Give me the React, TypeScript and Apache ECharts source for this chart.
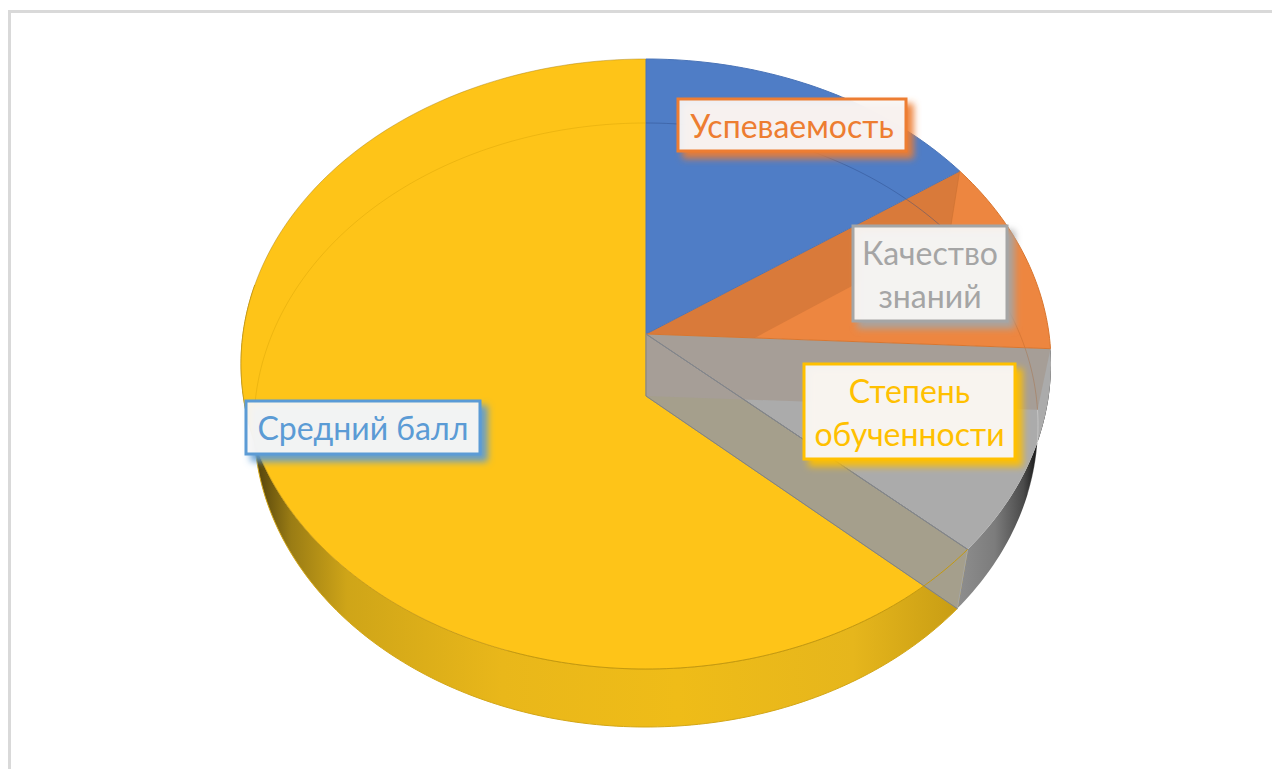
import React, { useEffect, useRef } from "react";
import * as echarts from "echarts";

// Slices, clockwise from 12 o'clock, in percent
const sliceValues = [14.1, 10.1, 11.2, 64.6];
const sliceColors = ["#4f7dc6", "#ed8640", "#ababab", "#fec418"];
const sliceStrokes = ["#4a74b8", "#d9762f", "#82868c", "#c79c16"];

const labelTexts = ["Успеваемость", "Качество\nзнаний", "Степень\nобученности", "Средний балл"];
const labelColors = ["#ed7d31", "#a5a5a5", "#ffc000", "#5b9bd5"];
const labelBoxes = [
  [678, 99, 228, 52],
  [853, 226, 154, 95],
  [804, 364, 211, 95],
  [246, 401, 234, 53],
];

const TOP = { cx: 646, cy: 364, rx: 405, ry: 305, ax: 646, ay: 334 };
const BOT = { cx: 646, cy: 425, rx: 392, ry: 302, ax: 646, ay: 396 };

type Ell = typeof TOP;
type P = [number, number];

const total = sliceValues.reduce((a, b) => a + b, 0);
const cumul: number[] = [0];
sliceValues.forEach((v, i) => cumul.push(cumul[i] + (v / total) * 360));

const rim = (e: Ell, deg: number): P => {
  const t = (deg * Math.PI) / 180;
  return [e.cx + e.rx * Math.sin(t), e.cy - e.ry * Math.cos(t)];
};
const arc = (e: Ell, a: number, b: number): P[] => {
  const n = Math.max(2, Math.ceil(Math.abs(b - a)));
  const out: P[] = [];
  for (let i = 0; i <= n; i++) out.push(rim(e, a + ((b - a) * i) / n));
  return out;
};
const apex = (e: Ell): P => [e.ax, e.ay];
const cross = (p1: P, p2: P, p3: P, p4: P): P => {
  const d = (p1[0] - p2[0]) * (p3[1] - p4[1]) - (p1[1] - p2[1]) * (p3[0] - p4[0]);
  const a = p1[0] * p2[1] - p1[1] * p2[0];
  const b = p3[0] * p4[1] - p3[1] * p4[0];
  return [
    (a * (p3[0] - p4[0]) - (p1[0] - p2[0]) * b) / d,
    (a * (p3[1] - p4[1]) - (p1[1] - p2[1]) * b) / d,
  ];
};

const hGrad = (x0: number, x1: number, stops: [number, string][]) =>
  new echarts.graphic.LinearGradient(
    x0, 0, x1, 0,
    stops.map(([offset, color]) => ({ offset, color })),
    true
  );

const poly = (points: P[], style: any) => ({ type: "polygon", shape: { points }, style });
const line = (points: P[], stroke: string, lineWidth = 1) => ({
  type: "polyline",
  shape: { points },
  style: { fill: "none", stroke, lineWidth },
});

// Layer 1: outer walls of the slices seen from the front
function renderWalls(params: any) {
  const i = params.dataIndex;
  const a = cumul[i];
  const b = cumul[i + 1];
  const children: any[] = [];
  if (i === 2) {
    children.push(
      poly([...arc(TOP, a, b), ...arc(BOT, b, a)], {
        fill: hGrad(958, 1040, [
          [0, "#8e8e8e"],
          [0.45, "#7c7c7c"],
          [0.8, "#4a4a4a"],
          [1, "#0c0c0c"],
        ]),
      })
    );
  }
  if (i === 3) {
    children.push(
      poly([...arc(TOP, a, 285), ...arc(BOT, 285, a)], {
        fill: hGrad(256, 958, [
          [0, "#54430c"],
          [0.05, "#9a7c14"],
          [0.13, "#cfa518"],
          [0.35, "#e9b71a"],
          [0.6, "#efbc18"],
          [0.85, "#e6b61c"],
          [1, "#c89d14"],
        ]),
        stroke: "#d3a616",
        lineWidth: 1,
      })
    );
  }
  return { type: "group", children };
}

// Layer 2: top faces
function renderTops(params: any) {
  const i = params.dataIndex;
  return poly([apex(TOP), ...arc(TOP, cumul[i], cumul[i + 1])], {
    fill: sliceColors[i],
  });
}

// Layer 3: inner faces seen through the translucent top
function renderGhosts(params: any) {
  const i = params.dataIndex;
  const A = apex(TOP);
  const Ab = apex(BOT);
  const children: any[] = [];
  const end = cumul[i + 1];
  if (i === 0) {
    const P1 = cross(Ab, rim(BOT, end), A, rim(TOP, cumul[i + 2]));
    children.push(poly([A, P1, rim(BOT, end), rim(TOP, end)], { fill: "#d97a3a" }));
  }
  if (i === 2) {
    children.push(poly([A, rim(TOP, end), rim(BOT, end), Ab], { fill: "#a59f8c", stroke: "#9b978c", lineWidth: 1 }));
  }
  return { type: "group", children };
}

// Layer 3b: the back part of the inner floor under the grey slice
function renderGhostBand(params: any) {
  const i = params.dataIndex;
  const A = apex(TOP);
  const Ab = apex(BOT);
  const end = cumul[i + 1];
  if (i !== 1) return { type: "group", children: [] };
  return poly([A, rim(TOP, end), rim(BOT, end), Ab], { fill: "#a69e97" });
}

// Layer 4: edges
function renderEdges(params: any) {
  const i = params.dataIndex;
  const a = cumul[i];
  const b = cumul[i + 1];
  const A = apex(TOP);
  const Ab = apex(BOT);
  const children: any[] = [];
  children.push(line([A, rim(TOP, a)], sliceStrokes[i === 0 ? 0 : i - 1]));
  if (i === 0) {
    children.push(line(arc(BOT, a, b), "rgba(40,70,130,0.4)"));
    children.push(line([A, Ab], "#85827b"));
  }
  if (i === 1) {
    children.push(line(arc(BOT, a, b), "rgba(170,90,30,0.3)"));
    children.push(line([rim(TOP, a), rim(BOT, a)], "rgba(200,110,45,0.5)"));
  }
  if (i === 2) {
    children.push(line(arc(BOT, a, a + 16), "rgba(255,255,255,0.3)"));
    children.push(line([A, rim(TOP, b)], "#7d7f84"));
    children.push(line([Ab, rim(BOT, b)], "#83837e"));
    children.push(line([rim(TOP, b), rim(BOT, b)], "#a8a8a4"));
  }
  if (i === 3) {
    children.push(line(arc(BOT, 265, 360), "rgba(200,150,0,0.3)"));
    children.push(line(arc(TOP, a, 200), "#c4990f"));
    children.push(line(arc(TOP, 200, 360), "rgba(175,135,25,0.5)"));
  }
  if (i < 2) children.push(line(arc(TOP, a, b), sliceStrokes[i]));
  return { type: "group", children };
}

// Layer 5: labels
function renderLabels(params: any) {
  const i = params.dataIndex;
  const [x, y, w, h] = labelBoxes[i];
  return {
    type: "group",
    children: [
      {
        type: "rect",
        shape: { x, y, width: w, height: h },
        style: {
          fill: "rgba(249,248,246,0.93)",
          stroke: labelColors[i],
          lineWidth: 3,
          shadowBlur: 7,
          shadowColor: labelColors[i],
          shadowOffsetX: 6,
          shadowOffsetY: 6,
        },
      },
      {
        type: "text",
        style: {
          text: labelTexts[i],
          x: x + w / 2,
          y: y + h / 2,
          align: "center",
          verticalAlign: "middle",
          fill: labelColors[i],
          font: "32px Lato, sans-serif",
          lineHeight: 43,
        },
      },
    ],
  };
}

const layer = (name: string, renderItem: any) => ({
  type: "custom",
  name,
  coordinateSystem: "none",
  data: sliceValues,
  silent: true,
  clip: false,
  renderItem,
});

export default function App() {
  const ref = useRef<HTMLDivElement>(null);
  useEffect(() => {
    document.body.style.margin = "0";
    document.body.style.overflow = "hidden";
    const chart = echarts.init(ref.current!, undefined, { renderer: "svg" });
    chart.setOption({
      animation: false,
      backgroundColor: "#ffffff",
      graphic: [
        { type: "rect", silent: true, shape: { x: 8, y: 10, width: 1264, height: 3 }, style: { fill: "#d9d9d9" } },
        { type: "rect", silent: true, shape: { x: 8, y: 10, width: 3, height: 759 }, style: { fill: "#d9d9d9" } },
      ],
      series: [
        layer("walls", renderWalls),
        layer("tops", renderTops),
        layer("ghosts", renderGhosts),
        layer("band", renderGhostBand),
        layer("edges", renderEdges),
        layer("labels", renderLabels),
      ],
    });
    return () => chart.dispose();
  }, []);
  return <div ref={ref} style={{ position: "absolute", left: 0, top: 0, width: 1272, height: 769 }} />;
}
